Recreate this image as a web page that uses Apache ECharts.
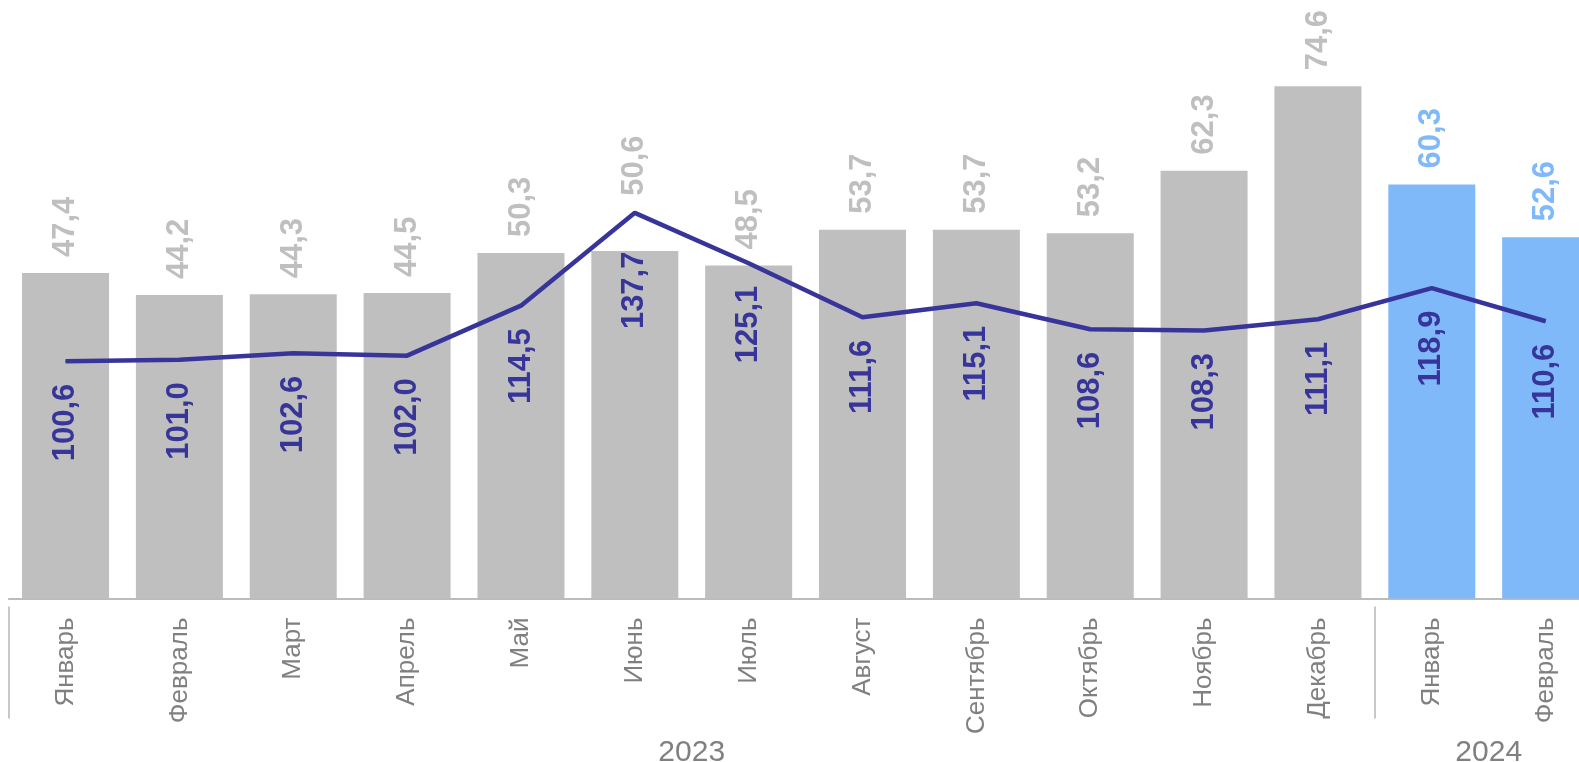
<!DOCTYPE html>
<html><head><meta charset="utf-8">
<script src="https://cdn.jsdelivr.net/npm/echarts@6/dist/echarts.min.js"></script>
<style>html,body{margin:0;padding:0;background:#fff;overflow:hidden}#c{width:1579px;height:762px}</style>
</head><body><div id="c"></div>
<script>
const months = ['Январь','Февраль','Март','Апрель','Май','Июнь','Июль','Август','Сентябрь','Октябрь','Ноябрь','Декабрь','Январь','Февраль'];
const barValues = [47.4,44.2,44.3,44.5,50.3,50.6,48.5,53.7,53.7,53.2,62.3,74.6,60.3,52.6];
const lineValues = [100.6,101.0,102.6,102.0,114.5,137.7,125.1,111.6,115.1,108.6,108.3,111.1,118.9,110.6];
const highlighted = [false,false,false,false,false,false,false,false,false,false,false,false,true,true];
const years = ['2023','2024'];
const yearStarts = [0,12];
const yearCenters = [6,13];

const FONT = '"Liberation Sans", Arial, sans-serif';
const GRAY = '#bfbfbf', BLUE = '#7fb9f9', NAVY = '#38359a';
const fmt = v => v.toFixed(1).replace('.', ',');
const BAR_LABEL_GAP = 16, LINE_LABEL_GAP = 22;

const chart = echarts.init(document.getElementById('c'));
const baseOption = {
  animation: false,
  textStyle: { fontFamily: FONT },
  grid: { left: 8.6, width: 1594, top: 10, height: 588.5, containLabel: false, outerBoundsMode: 'none' },
  xAxis: [
    { type: 'category', data: months, boundaryGap: true,
      axisLine: { lineStyle: { color: '#a6a6a6', width: 1.5 } },
      axisTick: { show: false },
      axisLabel: { rotate: 90, margin: 19, color: '#808080', fontSize: 26, fontFamily: FONT, interval: 0 } },
    { type: 'value', position: 'bottom', offset: 8, min: 0, max: 14,
      axisLine: { show: false }, splitLine: { show: false },
      axisTick: { show: true, inside: false, length: 112, customValues: yearStarts, lineStyle: { color: '#c8c8c8', width: 2 } },
      axisLabel: { customValues: yearCenters, margin: 131, color: '#808080', fontSize: 30, fontFamily: FONT,
        formatter: v => years[yearCenters.indexOf(v)] || '' } }
  ],
  yAxis: [
    { type: 'value', min: 0, max: 85.7, show: false, splitLine: { show: false } },
    { type: 'value', min: 41.3, max: 188.4, show: false, splitLine: { show: false } }
  ],
  series: [
    { type: 'bar', xAxisIndex: 0, yAxisIndex: 0, barWidth: 87, data: barValues,
      label: { show: true, position: 'top', distance: BAR_LABEL_GAP, rotate: 90, align: 'left', verticalAlign: 'middle',
        fontSize: 31, fontWeight: 'bold', fontFamily: FONT, formatter: p => fmt(p.value) } },
    { type: 'line', xAxisIndex: 0, yAxisIndex: 1, data: lineValues, symbol: 'circle', symbolSize: 1, showSymbol: true,
      lineStyle: { color: NAVY, width: 4.5 }, itemStyle: { color: NAVY }, z: 5,
      labelLayout: { hideOverlap: false },
      label: { show: true, position: 'bottom', distance: LINE_LABEL_GAP, rotate: 90, align: 'right', verticalAlign: 'middle',
        color: NAVY, fontSize: 31, fontWeight: 'bold', fontFamily: FONT, formatter: p => fmt(p.value) } }
  ]
};
chart.setOption(baseOption);

// When the line rises above a bar's top, lift the bar label over the line and drop the line label to the bar top.
const barItems = [], lineItems = [];
barValues.forEach((v, i) => {
  const barTop = chart.convertToPixel({ yAxisIndex: 0 }, v);
  const lineY = chart.convertToPixel({ yAxisIndex: 1 }, lineValues[i]);
  const over = barTop - lineY;           // >0 when line point is above the bar top
  const color = highlighted[i] ? BLUE : GRAY;
  const bar = { value: v, itemStyle: { color }, label: { color } };
  const line = { value: lineValues[i] };
  if (over > 10) {
    bar.label.distance = over + 17;
    line.label = { distance: Math.max(LINE_LABEL_GAP, over) };
  }
  barItems.push(bar); lineItems.push(line);
});
chart.setOption({ series: [{ data: barItems }, { data: lineItems }] });
</script></body></html>
